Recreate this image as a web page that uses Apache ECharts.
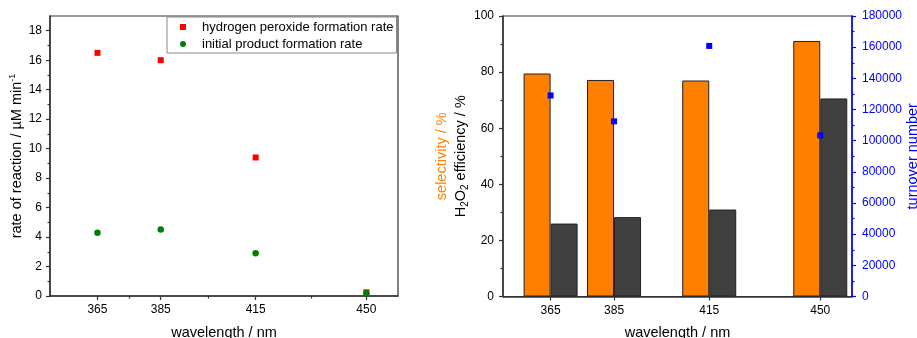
<!DOCTYPE html>
<html>
<head>
<meta charset="utf-8">
<script src="https://cdn.jsdelivr.net/npm/echarts@6/dist/echarts.min.js"></script>
<style>
html,body{margin:0;padding:0;background:#fff;}
#chart{width:917px;height:338px;}
</style>
</head>
<body>
<div id="chart"></div>
<script>
// ---- data ----
const wavelengths = [365, 385, 415, 450];
const h2o2Rate = [16.5, 16.0, 9.4, 0.25];
const productRate = [4.3, 4.52, 2.9, 0.18];
const selectivity = [79.5, 77.2, 77.0, 91.1];
const efficiency = [26.0, 28.3, 31.0, 70.6];
const turnover = [129000, 112400, 160800, 103400];
const leftYTicks = [0, 2, 4, 6, 8, 10, 12, 14, 16, 18];
const leftYMinorTicks = [1, 3, 5, 7, 9, 11, 13, 15, 17];
const seriesNames = ['hydrogen peroxide formation rate', 'initial product formation rate'];

const midTicks = wavelengths.slice(1).map((w, i) => (w + wavelengths[i]) / 2);
const pairs = (xs, ys) => xs.map((x, i) => [x, ys[i]]);

const FONT = 'Liberation Sans, Arial, sans-serif';
const AX = '#333';
const BLUE = '#0000FF';
const sqIcon = 'path://M0,0L1,0L1,1L0,1Z';

const chart = echarts.init(document.getElementById('chart'), null, {renderer: 'canvas'});

const baseX = (grid) => ({
  type: 'value', gridIndex: grid, position: 'bottom', min: 350, max: 460,
  axisLine: {show: true, lineStyle: {color: AX, width: 1.5}},
  axisTick: {show: true, customValues: wavelengths, length: 4, lineStyle: {color: AX, width: 1.2}},
  axisLabel: {show: true, customValues: wavelengths, margin: 8, fontSize: 12, color: '#000', fontFamily: FONT},
  splitLine: {show: false},
  name: 'wavelength / nm', nameLocation: 'middle', nameGap: 29,
  nameTextStyle: {fontSize: 14.5, color: '#000', fontFamily: FONT}
});

const option = {
  animation: false,
  textStyle: {fontFamily: FONT},
  grid: [
    {left: 50, top: 16, width: 348, height: 280, show: true, borderColor: AX, borderWidth: 1.2,
     backgroundColor: 'transparent', containLabel: false, outerBoundsMode: 'none'},
    {left: 503, top: 16, width: 349, height: 280.5, show: true, borderColor: AX, borderWidth: 1.2,
     backgroundColor: 'transparent', containLabel: false, outerBoundsMode: 'none'}
  ],
  legend: {
    show: true,
    orient: 'vertical',
    left: 167, top: 17,
    data: [{name: seriesNames[0], icon: sqIcon}, {name: seriesNames[1], icon: 'circle'}],
    itemWidth: 28, itemHeight: 6, itemGap: 3,
    padding: [3, 3, 2, 13],
    borderColor: '#888', borderWidth: 1, backgroundColor: '#fff',
    textStyle: {fontSize: 13, color: '#000', fontFamily: FONT, lineHeight: 14}
  },
  xAxis: [
    baseX(0),
    {
      type: 'value', gridIndex: 0, position: 'bottom', min: 350, max: 460,
      axisLine: {show: false},
      axisTick: {show: true, customValues: midTicks, length: 2.5, lineStyle: {color: AX, width: 1.2}},
      axisLabel: {show: false}, splitLine: {show: false}
    },
    baseX(1)
  ],
  yAxis: [
    {
      type: 'value', gridIndex: 0, position: 'left', min: 0, max: 19,
      axisLine: {show: true, lineStyle: {color: AX, width: 1.5}},
      axisTick: {show: true, customValues: leftYTicks, length: 4, lineStyle: {color: AX, width: 1.2}},
      axisLabel: {customValues: leftYTicks, margin: 8, fontSize: 12, color: '#000', fontFamily: FONT},
      splitLine: {show: false},
      name: '{n|rate of reaction / µM min}{sup|-1}',
      nameLocation: 'middle', nameGap: 19.5, nameRotate: 90,
      nameTextStyle: {
        fontFamily: FONT,
        rich: {
          n: {fontSize: 14.5, color: '#000', lineHeight: 18, fontFamily: FONT},
          sup: {fontSize: 9, color: '#000', lineHeight: 10, verticalAlign: 'top', fontFamily: FONT}
        }
      }
    },
    {
      type: 'value', gridIndex: 0, position: 'left', min: 0, max: 19,
      axisLine: {show: false},
      axisTick: {show: true, customValues: leftYMinorTicks, length: 2.5, lineStyle: {color: AX, width: 1.2}},
      axisLabel: {show: false}, splitLine: {show: false}
    },
    {
      type: 'value', gridIndex: 1, position: 'left', min: 0, max: 100, interval: 20,
      axisLine: {show: true, lineStyle: {color: AX, width: 1.5}},
      axisTick: {show: true, length: 4, lineStyle: {color: AX, width: 1.2}},
      minorTick: {show: true, splitNumber: 2, length: 2.5, lineStyle: {color: AX, width: 1.2}},
      axisLabel: {margin: 9, fontSize: 12, color: '#000', fontFamily: FONT},
      splitLine: {show: false},
      name: '{o|selectivity / %}\n{k|H}{s|2}{k|O}{s|2}{k| efficiency / %}',
      nameLocation: 'middle', nameGap: 30, nameRotate: 90,
      nameTextStyle: {
        fontFamily: FONT,
        rich: {
          o: {fontSize: 14.5, color: '#FF8000', lineHeight: 19, fontFamily: FONT},
          k: {fontSize: 14.5, color: '#000', lineHeight: 19, fontFamily: FONT},
          s: {fontSize: 10, color: '#000', lineHeight: 10, verticalAlign: 'bottom', fontFamily: FONT}
        }
      }
    },
    {
      type: 'value', gridIndex: 1, position: 'right', min: 0, max: 180000, interval: 20000,
      axisLine: {show: true, lineStyle: {color: BLUE, width: 1.5}},
      axisTick: {show: true, length: 4, lineStyle: {color: BLUE, width: 1.2}},
      minorTick: {show: true, splitNumber: 2, length: 2.5, lineStyle: {color: BLUE, width: 1.2}},
      axisLabel: {margin: 10, fontSize: 12, color: BLUE, fontFamily: FONT, formatter: (v) => String(v)},
      splitLine: {show: false},
      name: 'turnover number',
      nameLocation: 'middle', nameGap: 53, nameRotate: 90,
      nameTextStyle: {fontSize: 14.5, color: BLUE, fontFamily: FONT}
    }
  ],
  series: [
    {
      name: seriesNames[0], type: 'scatter', xAxisIndex: 0, yAxisIndex: 0,
      symbol: 'rect', symbolSize: 6, itemStyle: {color: '#FF0000', opacity: 1},
      data: pairs(wavelengths, h2o2Rate), z: 3
    },
    {
      name: seriesNames[1], type: 'scatter', xAxisIndex: 0, yAxisIndex: 0,
      symbol: 'circle', symbolSize: 6.5, itemStyle: {color: '#008000', opacity: 1},
      data: pairs(wavelengths, productRate), z: 4
    },
    {
      name: 'selectivity', type: 'bar', xAxisIndex: 2, yAxisIndex: 2,
      barWidth: 27, barGap: '0%',
      itemStyle: {color: '#FF8000', borderColor: '#222', borderWidth: 1},
      data: pairs(wavelengths, selectivity)
    },
    {
      name: 'efficiency', type: 'bar', xAxisIndex: 2, yAxisIndex: 2,
      barWidth: 27, barGap: '0%',
      itemStyle: {color: '#404040', borderColor: '#222', borderWidth: 1},
      data: pairs(wavelengths, efficiency)
    },
    {
      name: 'turnover', type: 'scatter', xAxisIndex: 2, yAxisIndex: 3,
      symbol: 'rect', symbolSize: 6, itemStyle: {color: BLUE, opacity: 1},
      data: pairs(wavelengths, turnover), z: 5
    }
  ]
};
chart.setOption(option);
</script>
</body>
</html>
